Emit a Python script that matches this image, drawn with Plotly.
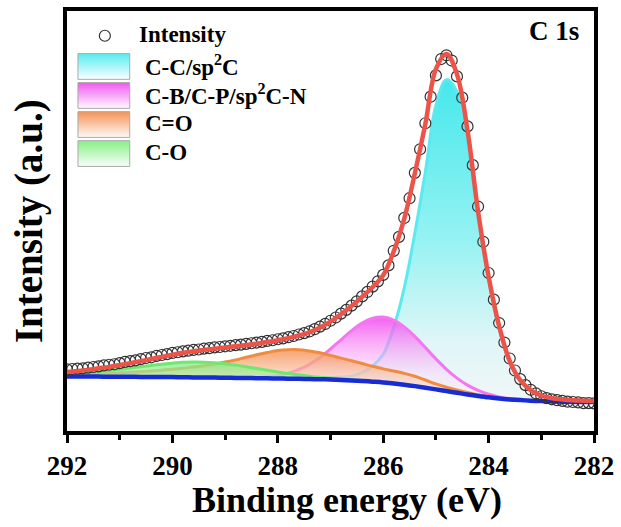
import plotly.graph_objects as go

# ---------------------------------------------------------------
# C 1s high-resolution XPS spectrum with peak-fit components
# ---------------------------------------------------------------

# Energy grid of the fitted curves (eV)
energy_fit = [292.0, 291.8, 291.6, 291.4, 291.2, 291.0, 290.8, 290.6, 290.4, 290.2,
              290.0, 289.8, 289.6, 289.4, 289.2, 289.0, 288.8, 288.6, 288.4, 288.2,
              288.0, 287.8, 287.6, 287.4, 287.2, 287.0, 286.8, 286.6, 286.4, 286.2,
              286.0, 285.8, 285.6, 285.4, 285.2, 285.0, 284.8, 284.6, 284.4, 284.2,
              284.0, 283.8, 283.6, 283.4, 283.2, 283.0, 282.8, 282.6, 282.4, 282.2,
              282.0]

# Shirley background (a.u.)
background = [58.0, 58.0, 57.9, 57.9, 57.8, 57.8, 57.7, 57.6, 57.5, 57.5,
              57.4, 57.3, 57.1, 57.0, 56.9, 56.8, 56.6, 56.5, 56.3, 56.2,
              56.0, 55.8, 55.7, 55.5, 55.2, 55.0, 54.6, 54.1, 53.5, 52.8,
              52.0, 50.9, 49.7, 48.3, 46.7, 45.0, 43.3, 41.6, 39.9, 38.4,
              37.0, 35.8, 34.9, 34.2, 33.6, 33.2, 32.9, 32.6, 32.4, 32.3,
              32.2]

# Fitted components above the background (a.u.)
peak_cc = [0.3, 0.3, 0.3, 0.35, 0.35, 0.4, 0.4, 0.4, 0.45, 0.45,
           0.5, 0.5, 0.5, 0.5, 0.55, 0.55, 0.6, 0.65, 0.7, 0.75,
           0.8, 0.9, 1.0, 1.2, 1.4, 1.9, 2.8, 4.4, 8.5, 15.8,
           28.4, 56.7, 97.7, 154.4, 218.0, 287.0, 314.4, 304.0, 255.2, 179.6,
           118.1, 70.9, 37.8, 19.5, 10.4, 5.4, 3.2, 2.2, 1.6, 1.3,
           1.1]
peak_cb = [0.0, 0.0, 0.0, 0.0, 0.0, 0.0, 0.0, 0.0, 0.0, 0.0,
           0.0, 0.0, 0.0, 0.0, 0.0, 0.07, 0.17, 0.4, 0.8, 1.65,
           3.1, 5.6, 9.4, 14.8, 22.0, 30.8, 40.5, 50.2, 58.4, 64.0,
           66.0, 64.0, 58.4, 50.2, 40.5, 30.8, 22.0, 14.8, 9.4, 5.6,
           3.1, 1.65, 0.8, 0.4, 0.17, 0.07, 0.0, 0.0, 0.0, 0.0,
           0.0]
peak_c_double_o = [2.0, 2.3, 2.6, 3.0, 3.4, 3.9, 4.5, 5.2, 6.0, 6.9,
                   7.9, 9.1, 10.4, 11.9, 13.7, 15.8, 18.2, 20.9, 23.6, 26.0,
                   28.2, 29.3, 29.4, 28.3, 26.8, 24.3, 22.0, 19.8, 17.6, 15.5,
                   13.7, 12.6, 11.5, 10.0, 7.8, 5.5, 4.0, 2.8, 1.9, 1.2,
                   0.8, 0.5, 0.3, 0.2, 0.1, 0.0, 0.0, 0.0, 0.0, 0.0,
                   0.0]
peak_c_o = [2.2, 3.0, 3.9, 5.0, 6.2, 7.5, 8.9, 10.3, 11.7, 13.0,
            14.1, 15.0, 15.5, 15.5, 15.0, 14.1, 12.9, 11.4, 9.8, 8.2,
            6.6, 5.2, 4.0, 2.9, 2.1, 1.5, 1.0, 0.64, 0.41, 0.25,
            0.15, 0.09, 0.05, 0.03, 0.02, 0.0, 0.0, 0.0, 0.0, 0.0,
            0.0, 0.0, 0.0, 0.0, 0.0, 0.0, 0.0, 0.0, 0.0, 0.0,
            0.0]

# Measured spectrum (a.u.)
energy_meas = [292.0, 291.9, 291.8, 291.7, 291.6, 291.5, 291.4, 291.3, 291.2, 291.1,
               291.0, 290.9, 290.8, 290.7, 290.6, 290.5, 290.4, 290.3, 290.2, 290.1,
               290.0, 289.9, 289.8, 289.7, 289.6, 289.5, 289.4, 289.3, 289.2, 289.1,
               289.0, 288.9, 288.8, 288.7, 288.6, 288.5, 288.4, 288.3, 288.2, 288.1,
               288.0, 287.9, 287.8, 287.7, 287.6, 287.5, 287.4, 287.3, 287.2, 287.1,
               287.0, 286.9, 286.8, 286.7, 286.6, 286.5, 286.4, 286.3, 286.2, 286.1,
               286.0, 285.9, 285.8, 285.7, 285.6, 285.5, 285.4, 285.3, 285.2, 285.1,
               285.0, 284.9, 284.8, 284.7, 284.6, 284.5, 284.4, 284.3, 284.2, 284.1,
               284.0, 283.9, 283.8, 283.7, 283.6, 283.5, 283.4, 283.3, 283.2, 283.1,
               283.0, 282.9, 282.8, 282.7, 282.6, 282.5, 282.4, 282.3, 282.2, 282.1,
               282.0]
intensity = [65.2, 65.6, 66.0, 66.3, 67.0, 67.6, 68.3, 69.2, 69.9, 70.4,
             71.5, 72.8, 73.6, 74.3, 75.6, 76.7, 77.4, 78.9, 79.7, 80.6,
             81.8, 82.5, 83.4, 84.1, 84.8, 85.3, 86.2, 86.6, 87.4, 87.8,
             88.5, 89.0, 89.7, 90.2, 91.0, 91.6, 92.3, 93.0, 93.9, 94.6,
             95.6, 96.5, 97.7, 98.9, 100.4, 101.8, 103.5, 105.8, 108.4, 111.1,
             114.3, 117.6, 121.5, 125.3, 129.6, 133.9, 138.9, 143.4, 148.8, 154.1,
             160.6, 170.2, 184.9, 199.0, 218.1, 238.0, 263.6, 287.4, 313.7, 340.5,
             362.0, 378.5, 382.3, 377.0, 361.0, 339.5, 310.5, 271.4, 229.6, 194.0,
             162.5, 135.6, 112.0, 92.3, 76.2, 64.1, 55.4, 49.3, 44.6, 40.9,
             38.1, 36.2, 35.0, 34.1, 33.4, 32.6, 32.3, 31.8, 31.2, 31.2,
             30.9]

component_names = ["C-C/sp<sup>2</sup>C", "C-B/C-P/sp<sup>2</sup>C-N", "C=O", "C-O"]
x_tick_values = [292, 290, 288, 286, 284, 282]

# ---------------------------------------------------------------
FONT = "Liberation Serif, Times New Roman, serif"
X_RANGE = [292, 282]
Y_RANGE = [3, 427]

components = [
    dict(peak=peak_cc, line="rgb(92,234,240)", top="rgb(90,236,240)",
         scale=[[0.0, "rgba(242,246,247,1)"], [0.19, "rgba(224,246,247,1)"],
                [0.51, "rgba(150,242,242,1)"], [1.0, "rgba(70,232,236,1)"]]),
    dict(peak=peak_cb, line="rgb(244,118,240)", top="rgb(240,92,240)",
         scale=[[0.0, "rgba(255,240,252,0.25)"], [0.35, "rgba(252,215,250,0.45)"],
                [1.0, "rgba(242,80,240,0.85)"]]),
    dict(peak=peak_c_double_o, line="rgb(240,140,62)", top="rgb(245,150,92)",
         scale=[[0.0, "rgba(255,232,220,0.3)"], [0.5, "rgba(250,200,170,0.55)"],
                [1.0, "rgba(245,155,100,0.85)"]]),
    dict(peak=peak_c_o, line="rgb(112,232,112)", top="rgb(140,240,140)",
         scale=[[0.0, "rgba(236,250,236,0.3)"], [1.0, "rgba(135,236,135,0.75)"]]),
]

fig = go.Figure()

# component areas, each filled between the background and its own curve
for comp in components:
    total = [b + p for b, p in zip(background, comp["peak"])]
    fig.add_trace(go.Scatter(
        x=energy_fit, y=background, mode="lines",
        line=dict(width=0, shape="spline"), showlegend=False, hoverinfo="skip"))
    fig.add_trace(go.Scatter(
        x=energy_fit, y=total, mode="lines",
        line=dict(color=comp["line"], width=3, shape="spline"),
        fill="tonexty",
        fillgradient=dict(type="vertical", colorscale=comp["scale"],
                          start=min(total), stop=max(total)),
        showlegend=False, hoverinfo="skip"))

# background line
fig.add_trace(go.Scatter(
    x=energy_fit, y=background, mode="lines",
    line=dict(color="rgb(24,44,214)", width=4.5, shape="spline"),
    showlegend=False))

# measured points
fig.add_trace(go.Scatter(
    x=energy_meas, y=intensity, mode="markers",
    marker=dict(symbol="circle-open", size=11, color="rgb(50,50,50)",
                line=dict(width=1.2)),
    showlegend=False))

# fitted envelope
envelope = [b + p1 + p2 + p3 + p4 for b, p1, p2, p3, p4 in
            zip(background, peak_cc, peak_cb, peak_c_double_o, peak_c_o)]
fig.add_trace(go.Scatter(
    x=energy_fit, y=envelope, mode="lines",
    line=dict(color="rgb(236,84,74)", width=4.5, shape="spline"),
    showlegend=False))

# ---------------------------------------------------------------
# hand-built legend on an overlay axis measured in pixels
LEG = dict(xaxis="x2", yaxis="y2", showlegend=False, hoverinfo="skip")
fig.add_trace(go.Scatter(
    x=[39], y=[402], mode="markers",
    marker=dict(symbol="circle-open", size=11, color="rgb(50,50,50)",
                line=dict(width=1.2)), **LEG))

row_step = 29.3
for i, comp in enumerate(components):
    top = 384 - i * row_step
    bot = top - 26
    fig.add_trace(go.Scatter(
        x=[12, 64, 64, 12, 12], y=[bot, bot, top, top, bot], mode="lines",
        line=dict(color="rgb(170,170,170)", width=1),
        fill="toself",
        fillgradient=dict(type="vertical",
                          colorscale=[[0, "rgb(255,255,255)"], [1, comp["top"]]],
                          start=bot, stop=top), **LEG))
    fig.add_annotation(
        x=77, y=(top + bot) / 2 + 1, xref="x2", yref="y2",
        text=component_names[i], showarrow=False,
        xanchor="left", yanchor="middle",
        font=dict(family=FONT, size=23, color="black", weight="bold"))

fig.add_annotation(
    x=71, y=403, xref="x2", yref="y2", text="Intensity", showarrow=False,
    xanchor="left", yanchor="middle",
    font=dict(family=FONT, size=23, color="black", weight="bold"))

fig.add_annotation(
    x=0.9754, y=0.953, xref="paper", yref="paper", text="C 1s", showarrow=False,
    xanchor="right", yanchor="middle",
    font=dict(family=FONT, size=27, color="black", weight="bold"))

# axis titles
fig.add_annotation(
    x=0.531, y=-0.165, xref="paper", yref="paper", text="Binding energy (eV)",
    showarrow=False, xanchor="center", yanchor="middle",
    font=dict(family=FONT, size=36, color="black", weight="bold"))
fig.add_annotation(
    x=-0.072, y=0.5, xref="paper", yref="paper", text="Intensity (a.u.)",
    showarrow=False, textangle=-90, xanchor="center", yanchor="middle",
    font=dict(family=FONT, size=39, color="black", weight="bold"))

fig.update_layout(
    width=621, height=527,
    margin=dict(l=67, r=25, t=7, b=96),
    paper_bgcolor="white", plot_bgcolor="white",
    showlegend=False,
    xaxis=dict(
        range=X_RANGE, tickvals=x_tick_values,
        ticks="outside", ticklen=8, tickwidth=3, tickcolor="black",
        minor=dict(dtick=1, ticks="outside", ticklen=5, tickwidth=3,
                   tickcolor="black", showgrid=False),
        showline=True, linewidth=3.5, linecolor="black", mirror=True,
        showgrid=False, zeroline=False,
        tickfont=dict(family=FONT, size=27, color="black", weight="bold"),
    ),
    yaxis=dict(
        range=Y_RANGE, showticklabels=False, ticks="",
        showline=True, linewidth=3.5, linecolor="black", mirror=True,
        showgrid=False, zeroline=False,
    ),
    xaxis2=dict(range=[1, 530], overlaying="x", anchor="y2", visible=False,
                fixedrange=True),
    yaxis2=dict(range=Y_RANGE, overlaying="y", anchor="x2", visible=False,
                fixedrange=True),
)

fig.write_html("out.html")
